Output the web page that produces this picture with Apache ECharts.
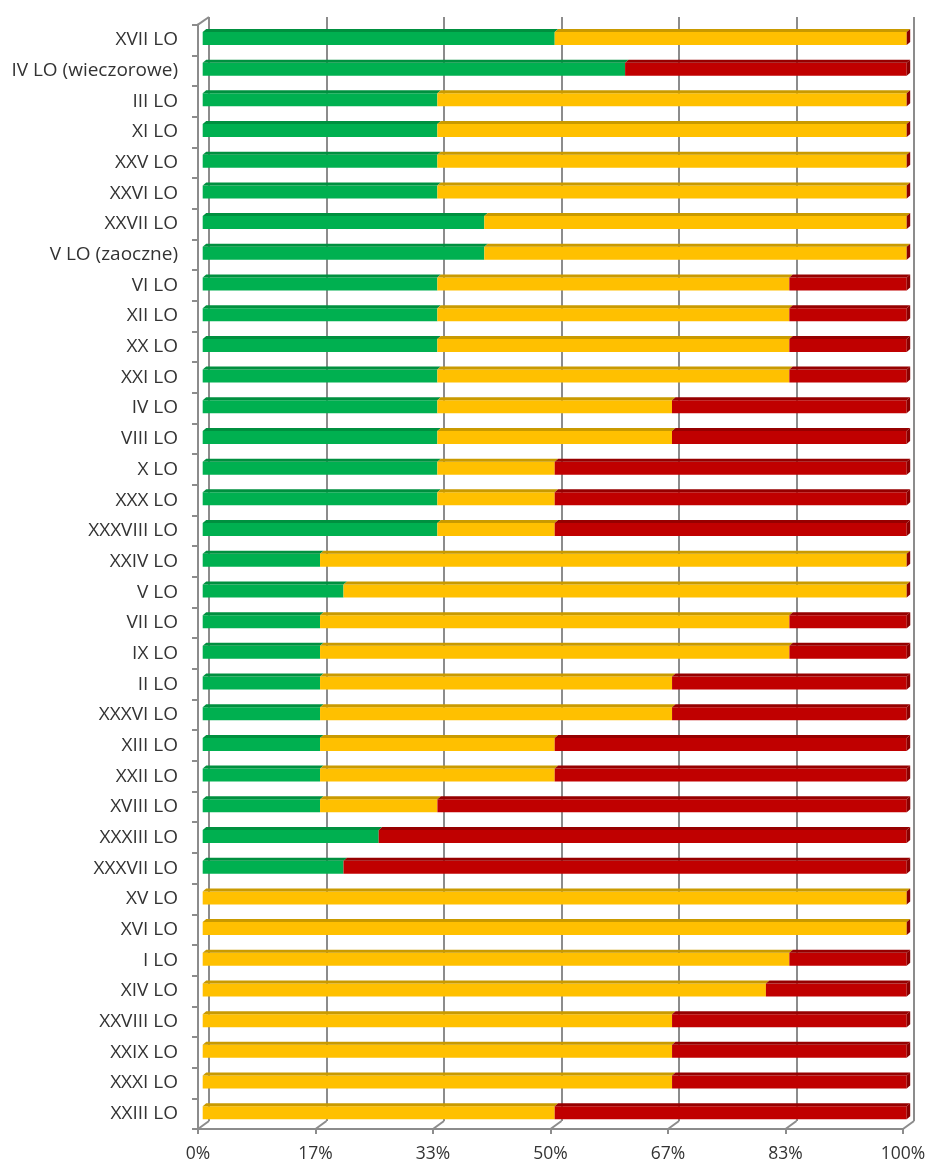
<!DOCTYPE html>
<html>
<head>
<meta charset="utf-8">
<script src="https://cdn.jsdelivr.net/npm/echarts@6/dist/echarts.min.js"></script>
<style>
html,body{margin:0;padding:0;background:#fff;}
#chart{width:931px;height:1166px;}
</style>
</head>
<body>
<div id="chart"></div>
<script>
var categories = ['XVII LO','IV LO (wieczorowe)','III LO','XI LO','XXV LO','XXVI LO','XXVII LO','V LO (zaoczne)','VI LO','XII LO','XX LO','XXI LO','IV LO','VIII LO','X LO','XXX LO','XXXVIII LO','XXIV LO','V LO','VII LO','IX LO','II LO','XXXVI LO','XIII LO','XXII LO','XVIII LO','XXXIII LO','XXXVII LO','XV LO','XVI LO','I LO','XIV LO','XXVIII LO','XXIX LO','XXXI LO','XXIII LO'];
var green  = [50,60,33.33,33.33,33.33,33.33,40,40,33.33,33.33,33.33,33.33,33.33,33.33,33.33,33.33,33.33,16.67,20,16.67,16.67,16.67,16.67,16.67,16.67,16.67,25,20,0,0,0,0,0,0,0,0];
var yellow = [50,0,66.67,66.67,66.67,66.67,60,60,50,50,50,50,33.33,33.33,16.67,16.67,16.67,83.33,80,66.67,66.67,50,50,33.33,33.33,16.67,0,0,100,100,83.33,80,66.67,66.67,66.67,50];
var red    = [0,40,0,0,0,0,0,0,16.67,16.67,16.67,16.67,33.33,33.33,50,50,50,0,0,16.67,16.67,33.33,33.33,50,50,66.67,75,80,0,0,16.67,20,33.33,33.33,33.33,50];
var tickLabels = ['0%','17%','33%','50%','67%','83%','100%'];

var W = 931, H = 1166;
var back  = {left:209, right:17, top:17, bottom:45};
var bars  = {left:202.7, right:24.3, top:21.6, bottom:39.4};
var front = {left:198, right:28, top:24.6, bottom:37};
var gridGray = '#8c8c8c';

function segData(startArrs, vals) {
  return vals.map(function (v, i) {
    var s = 0;
    startArrs.forEach(function (arr) { s += arr[i]; });
    return [s, s + v, i];
  });
}

function makeRender(frontColor, topColor, sideColor, isLast) {
  return function (params, api) {
    var a = api.value(0), b = api.value(1), cat = api.value(2);
    var p0 = api.coord([a, cat]);
    var p1 = api.coord([b, cat]);
    var yc = p0[1];
    var d = 3.5, t = 3;
    var ch = [];
    if (b > a) {
      ch.push({type:'rect', shape:{x:p0[0], y:yc-5, width:p1[0]-p0[0], height:13}, style:{fill:frontColor}});
      ch.push({type:'polygon', shape:{points:[[p0[0],yc-5],[p1[0],yc-5],[p1[0]+d,yc-5-t],[p0[0]+d,yc-5-t]]}, style:{fill:topColor}});
    }
    if (isLast) {
      ch.push({type:'polygon', shape:{points:[[p1[0],yc-5],[p1[0]+d,yc-5-t],[p1[0]+d,yc+8-t],[p1[0],yc+8]]}, style:{fill:sideColor}});
    }
    return {type:'group', children:ch};
  };
}

var chart = echarts.init(document.getElementById('chart'), null, {renderer:'canvas'});
var option = {
  animation: false,
  backgroundColor: '#ffffff',
  grid: [
    {left:back.left, right:back.right, top:back.top, bottom:back.bottom},
    {left:bars.left, right:bars.right, top:bars.top, bottom:bars.bottom},
    {left:front.left, right:front.right, top:front.top, bottom:front.bottom}
  ],
  xAxis: [
    {gridIndex:0, type:'value', min:0, max:6, interval:1,
     axisLine:{show:false}, axisTick:{show:false}, axisLabel:{show:false},
     splitLine:{show:true, lineStyle:{color:gridGray, width:2}}},
    {gridIndex:1, type:'value', min:0, max:100, show:false, splitLine:{show:false}},
    {gridIndex:2, type:'value', min:0, max:6, interval:1,
     axisLine:{show:true, lineStyle:{color:gridGray, width:2}},
     axisTick:{show:true, length:5, lineStyle:{color:gridGray, width:2}},
     splitLine:{show:false},
     axisLabel:{margin:16, fontSize:17.5, color:'#333', fontFamily:'Open Sans',
       formatter:function (v) { return tickLabels[Math.round(v)]; }}}
  ],
  yAxis: [
    {gridIndex:0, type:'category', data:categories, inverse:true, show:false},
    {gridIndex:1, type:'category', data:categories, inverse:true, show:false},
    {gridIndex:2, type:'category', data:categories, inverse:true,
     axisLine:{show:true, lineStyle:{color:gridGray, width:2}},
     axisTick:{show:true, length:6, alignWithLabel:false, lineStyle:{color:gridGray, width:2}},
     axisLabel:{margin:20, fontSize:19, color:'#333', fontFamily:'Open Sans'},
     splitLine:{show:false}}
  ],
  series: [
    {type:'custom', name:'green', xAxisIndex:1, yAxisIndex:1, data:segData([], green),
     renderItem: makeRender('#00B050', '#00903f', null, false)},
    {type:'custom', name:'yellow', xAxisIndex:1, yAxisIndex:1, data:segData([green], yellow),
     renderItem: makeRender('#FFC000', '#c99a00', null, false)},
    {type:'custom', name:'red', xAxisIndex:1, yAxisIndex:1, data:segData([green, yellow], red),
     renderItem: makeRender('#C00000', '#960000', '#8a0000', true)}
  ]
};
chart.setOption(option);

// 3D wall/floor connectors derived from the axes
var els = [];
var fy = H - front.bottom, by = H - back.bottom;
for (var k = 0; k <= 6; k++) {
  var fx = chart.convertToPixel({xAxisIndex:2}, k);
  var bx = chart.convertToPixel({xAxisIndex:0}, k);
  els.push({type:'line', shape:{x1:fx, y1:fy, x2:bx, y2:by}, style:{stroke:gridGray, lineWidth:2}, z:10});
}
var fl = chart.convertToPixel({xAxisIndex:2}, 0);
var bl = chart.convertToPixel({xAxisIndex:0}, 0);
els.push({type:'line', shape:{x1:fl, y1:front.top, x2:bl, y2:back.top}, style:{stroke:gridGray, lineWidth:2}, z:10});
chart.setOption({graphic:{elements:els}});
</script>
</body>
</html>
